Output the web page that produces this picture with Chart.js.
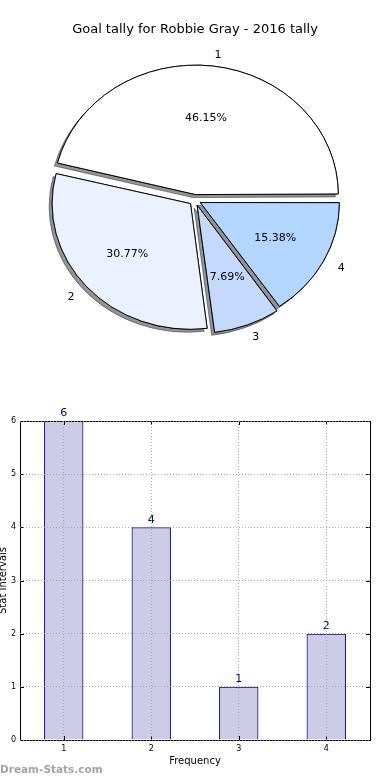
<!DOCTYPE html>
<html>
<head>
<meta charset="utf-8">
<script src="https://cdn.jsdelivr.net/npm/chart.js@4.4.1/dist/chart.umd.min.js"></script>
<style>
  html, body { margin: 0; padding: 0; background: #fff; }
  body { width: 390px; height: 780px; position: relative; overflow: hidden; font-family: "DejaVu Sans", sans-serif; }
  #pieBox { position: absolute; left: 0; top: 0; width: 390px; height: 390px; }
  #barBox { position: absolute; left: 0; top: 390px; width: 390px; height: 390px; }
  #mark { position: absolute; left: 0; top: 763px; font: bold 10.5px "DejaVu Sans", sans-serif; color: #a4a4a4; }
</style>
</head>
<body>
<div id="pieBox"><canvas id="pieChart" width="390" height="390"></canvas></div>
<div id="barBox"><canvas id="barChart" width="390" height="390"></canvas></div>
<div id="mark">Dream-Stats.com</div>
<script>
// goal tally data
const categories = ['1', '2', '3', '4'];
const goalCounts = [6, 4, 1, 2];
const sliceColors = ['#ffffff', '#ebf1fe', '#c5d9ff', '#b3d6ff'];
const yTicks = [0, 1, 2, 3, 4, 5, 6];

const chartTitle = 'Goal tally for Robbie Gray - 2016 tally';
const FONT = '"DejaVu Sans", sans-serif';
const squash = 0.908; // pie is drawn as ellipse like the original

const total = goalCounts.reduce((a, b) => a + b, 0);

// matplotlib draws counter-clockwise from east, chart.js goes clockwise -> reverse
const pieLabels = categories.slice().reverse();
const pieValues = goalCounts.slice().reverse();
const pieColors = sliceColors.slice().reverse();

const ellipsePlugin = {
    id: 'ellipse',
    beforeDatasetsDraw(chart) {
        const meta = chart.getDatasetMeta(0);
        const arc = meta.data[0];
        const ctx = chart.ctx;
        ctx.save();
        ctx.translate(arc.x, arc.y);
        ctx.scale(1, squash);
        ctx.translate(-arc.x, -arc.y);
        // shadow pass first, the normal draw covers the inner part
        ctx.shadowColor = 'rgba(0,0,0,0.42)';
        ctx.shadowOffsetX = -3;
        ctx.shadowOffsetY = 3;
        ctx.shadowBlur = 0;
        meta.data.forEach(a => a.draw(ctx));
        ctx.shadowColor = 'rgba(0,0,0,0)';
        ctx.shadowOffsetX = 0;
        ctx.shadowOffsetY = 0;
    },
    afterDatasetsDraw(chart) {
        chart.ctx.restore();
    },
    afterDraw(chart) {
        const ctx = chart.ctx;
        const meta = chart.getDatasetMeta(0);
        ctx.save();
        ctx.font = '11px ' + FONT;
        ctx.fillStyle = '#000';
        ctx.textBaseline = 'middle';
        meta.data.forEach((arc, i) => {
            const mid = (arc.startAngle + arc.endAngle) / 2;
            const r = arc.outerRadius + 3;
            const ex = 6;
            const cx = arc.x + Math.cos(mid) * ex;
            const cy = arc.y + Math.sin(mid) * ex * squash;
            // label
            const lx = cx + Math.cos(mid) * r * 1.1;
            const ly = cy + Math.sin(mid) * r * 1.1 * squash;
            ctx.textAlign = Math.cos(mid) > 0 ? 'left' : 'right';
            ctx.fillText(pieLabels[i], lx, ly);
            // percent
            const px = cx + Math.cos(mid) * r * 0.6;
            const py = cy + Math.sin(mid) * r * 0.6 * squash;
            ctx.textAlign = 'center';
            ctx.fillText((pieValues[i] / total * 100).toFixed(2) + '%', px, py);
        });
        ctx.restore();
    }
};

new Chart(document.getElementById('pieChart'), {
    type: 'pie',
    data: {
        labels: pieLabels,
        datasets: [{
            data: pieValues,
            backgroundColor: pieColors,
            borderColor: '#000',
            borderWidth: 1,
            borderJoinStyle: 'miter',
            offset: 24,
            radius: 138
        }]
    },
    options: {
        responsive: false,
        animation: false,
        rotation: 90,
        layout: { padding: { top: 0, bottom: 39.6, left: 0, right: 0 } },
        plugins: {
            legend: { display: false },
            tooltip: { enabled: false },
            title: {
                display: true,
                text: chartTitle,
                color: '#000',
                font: { family: FONT, size: 13, weight: 'normal' },
                padding: { top: 22, bottom: 12 }
            }
        }
    },
    plugins: [ellipsePlugin]
});

// bar chart: frame, inward ticks and value labels
const framePlugin = {
    id: 'frame',
    afterDatasetsDraw(chart) {
        const ctx = chart.ctx;
        const a = chart.chartArea;
        const xs = chart.scales.x, ys = chart.scales.y;
        ctx.save();
        ctx.strokeStyle = '#000';
        ctx.lineWidth = 1;
        ctx.strokeRect(Math.round(a.left) + 0.5, Math.round(a.top) + 0.5,
            Math.round(a.right - a.left), Math.round(a.bottom - a.top));
        ctx.beginPath();
        categories.forEach((c, i) => {
            const x = Math.round(xs.getPixelForValue(i)) + 0.5;
            ctx.moveTo(x, a.bottom); ctx.lineTo(x, a.bottom - 4);
            ctx.moveTo(x, a.top); ctx.lineTo(x, a.top + 4);
        });
        yTicks.forEach(v => {
            const y = Math.round(ys.getPixelForValue(v)) + 0.5;
            ctx.moveTo(a.left, y); ctx.lineTo(a.left + 4, y);
            ctx.moveTo(a.right, y); ctx.lineTo(a.right - 4, y);
        });
        ctx.stroke();

        ctx.fillStyle = '#000080';
        ctx.font = '11px ' + FONT;
        ctx.textAlign = 'center';
        ctx.textBaseline = 'bottom';
        chart.getDatasetMeta(0).data.forEach((bar, i) => {
            ctx.fillText(String(goalCounts[i]), bar.x, bar.y - 2);
        });
        ctx.restore();
    }
};

new Chart(document.getElementById('barChart'), {
    type: 'bar',
    data: {
        labels: categories,
        datasets: [{
            data: goalCounts,
            backgroundColor: 'rgba(0,0,128,0.2)',
            borderColor: '#000080',
            borderWidth: 1,
            barPercentage: 0.45,
            categoryPercentage: 1
        }]
    },
    options: {
        responsive: false,
        animation: false,
        layout: { padding: { top: 31, right: 20, left: 0, bottom: 0 } },
        plugins: { legend: { display: false }, tooltip: { enabled: false } },
        scales: {
            x: {
                offset: true,
                grid: { offset: false, color: 'rgba(150,150,150,0.75)', drawTicks: false, z: 1 },
                border: { display: false, dash: [1, 2] },
                ticks: { color: '#000', font: { family: FONT, size: 8 }, padding: 4 },
                title: { display: true, text: 'Frequency', color: '#000', font: { family: FONT, size: 10 }, padding: { top: 0, bottom: 13 } },
                afterFit(scale) { scale.height = 40; }
            },
            y: {
                min: 0,
                max: 6,
                grid: { color: 'rgba(150,150,150,0.75)', drawTicks: false, z: 1 },
                border: { display: false, dash: [1, 2] },
                ticks: { stepSize: 1, color: '#000', font: { family: FONT, size: 8 }, padding: 4 },
                title: { display: true, text: 'Stat Intervals', color: '#000', font: { family: FONT, size: 10 }, padding: { top: -3, bottom: 0 } },
                afterFit(scale) { scale.width = 20; }
            }
        }
    },
    plugins: [framePlugin]
});
</script>
</body>
</html>
